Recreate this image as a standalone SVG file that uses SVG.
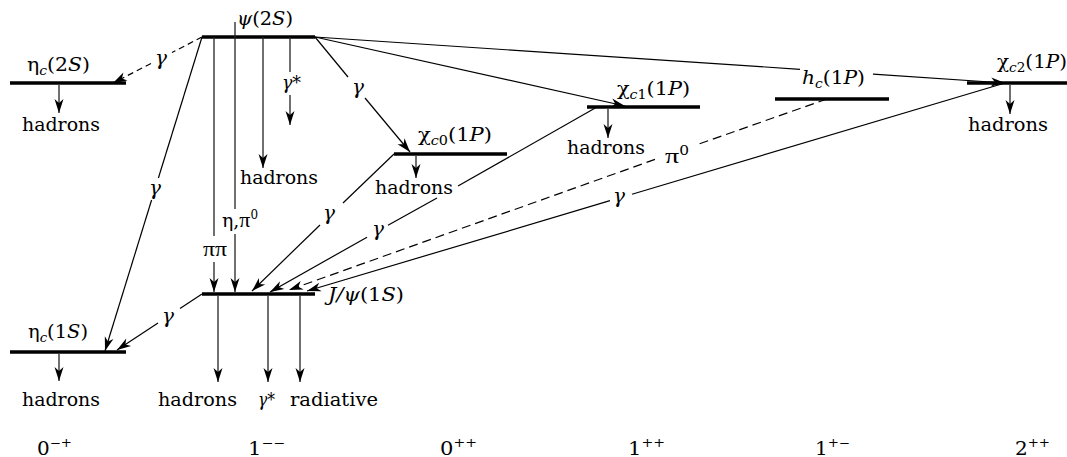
<svg xmlns="http://www.w3.org/2000/svg" width="1067" height="457" viewBox="0 0 1067 457" font-family="'DejaVu Serif', serif">
<defs>
<style>
text{font-family:"DejaVu Serif",serif;fill:#000}
.lbl{font-size:19px}
.h{font-size:19px}
.g{font-size:20px;font-style:italic;text-anchor:middle}
.it{font-style:italic}
.pi{font-family:"Liberation Serif",serif;font-size:22px}
.sub{font-size:13px}
.sup{font-size:12px}
.jpc{font-size:18px}
.lvl{stroke:#000;stroke-width:3.5;fill:none}
.ln{stroke:#000;stroke-width:1.2;fill:none}
.v{stroke:#222;stroke-width:1.3;fill:none}
.d1{stroke-dasharray:6 4}
.d2{stroke-dasharray:9 5}
.arr{marker-end:url(#ah)}
</style>
<marker id="ah" viewBox="-15 -5 16 10" refX="0" refY="0" markerWidth="16" markerHeight="10" markerUnits="userSpaceOnUse" orient="auto"><path d="M0,0 L-14,-4.5 L-10,0 L-14,4.5 Z" fill="#000"/></marker>
</defs>
<rect width="1067" height="457" fill="#fff"/>

<g id="psi2S">
<line class="lvl" x1="202" y1="37" x2="315" y2="37"/>
<text class="lbl" x="237" y="25" textLength="56" lengthAdjust="spacingAndGlyphs"><tspan class="it">ψ</tspan>(2<tspan class="it">S</tspan>)</text>
</g>
<g id="etac2S">
<line class="lvl" x1="10" y1="83" x2="126" y2="83"/>
<text class="lbl" x="27" y="71" textLength="63" lengthAdjust="spacingAndGlyphs">η<tspan class="sub it" dy="4">c</tspan><tspan dy="-4">(2</tspan><tspan class="it">S</tspan>)</text>
<text class="h" x="22" y="131" textLength="78" lengthAdjust="spacingAndGlyphs">hadrons</text>
</g>
<g id="chic0">
<line class="lvl" x1="394" y1="154" x2="507" y2="154"/>
<text class="lbl" x="418" y="141" textLength="74" lengthAdjust="spacingAndGlyphs">χ<tspan class="sub" dy="4"><tspan class="it">c</tspan>0</tspan><tspan dy="-4">(1</tspan><tspan class="it">P</tspan>)</text>
<text class="h" x="375" y="194" textLength="78" lengthAdjust="spacingAndGlyphs">hadrons</text>
</g>
<g id="chic1">
<line class="lvl" x1="587" y1="107" x2="700" y2="107"/>
<text class="lbl" x="617" y="95" textLength="73" lengthAdjust="spacingAndGlyphs">χ<tspan class="sub" dy="4"><tspan class="it">c</tspan>1</tspan><tspan dy="-4">(1</tspan><tspan class="it">P</tspan>)</text>
<text class="h" x="567" y="154" textLength="78" lengthAdjust="spacingAndGlyphs">hadrons</text>
</g>
<g id="hc1P">
<line class="lvl" x1="775" y1="99" x2="889" y2="99"/>
<text class="lbl" x="802" y="84" textLength="63" lengthAdjust="spacingAndGlyphs"><tspan class="it">h</tspan><tspan class="sub it" dy="4">c</tspan><tspan dy="-4">(1</tspan><tspan class="it">P</tspan>)</text>
</g>
<g id="chic2">
<line class="lvl" x1="967" y1="83" x2="1067" y2="83"/>
<text class="lbl" x="997" y="68" textLength="70" lengthAdjust="spacingAndGlyphs">χ<tspan class="sub" dy="4"><tspan class="it">c</tspan>2</tspan><tspan dy="-4">(1</tspan><tspan class="it">P</tspan>)</text>
<text class="h" x="968" y="131" textLength="80" lengthAdjust="spacingAndGlyphs">hadrons</text>
</g>
<g id="jpsi">
<line class="lvl" x1="202" y1="294" x2="315" y2="294"/>
<text class="lbl" x="328" y="301" textLength="76" lengthAdjust="spacingAndGlyphs"><tspan class="it">J/ψ</tspan>(1<tspan class="it">S</tspan>)</text>
<text class="h" x="158" y="406" textLength="79" lengthAdjust="spacingAndGlyphs">hadrons</text>
<text class="h it" x="258" y="406" textLength="17" lengthAdjust="spacingAndGlyphs">γ*</text>
<text class="h" x="290" y="406" textLength="88" lengthAdjust="spacingAndGlyphs">radiative</text>
</g>
<g id="etac1S">
<line class="lvl" x1="10" y1="352" x2="126" y2="352"/>
<text class="lbl" x="28" y="338" textLength="60" lengthAdjust="spacingAndGlyphs">η<tspan class="sub it" dy="4">c</tspan><tspan dy="-4">(1</tspan><tspan class="it">S</tspan>)</text>
<text class="h" x="22" y="406" textLength="78" lengthAdjust="spacingAndGlyphs">hadrons</text>
</g>

<g id="connectors">
<line class="ln d1" x1="202" y1="37" x2="172" y2="52.5"/>
<line class="ln d1 arr" x1="151" y1="63.5" x2="113" y2="83"/>
<text class="g" x="161" y="65">γ</text>
<line class="ln" x1="202" y1="37" x2="158.4" y2="178"/>
<line class="ln arr" x1="151.6" y1="200" x2="105" y2="351"/>
<text class="g" x="155" y="195">γ</text>
<line class="v" x1="214" y1="37" x2="214" y2="236"/>
<line class="v arr" x1="214" y1="262" x2="214" y2="292"/>
<text class="h" x="203" y="256" textLength="24" lengthAdjust="spacingAndGlyphs"><tspan class="pi">ππ</tspan></text>
<line class="v" x1="235" y1="22" x2="235" y2="209"/>
<line class="v arr" x1="235" y1="234" x2="235" y2="292"/>
<text class="h" x="222" y="227" textLength="36" lengthAdjust="spacingAndGlyphs">η,<tspan class="pi">π</tspan><tspan class="sup" dy="-8">0</tspan></text>
<line class="v arr" x1="263" y1="37" x2="263" y2="168"/>
<text class="h" x="240" y="184" textLength="78" lengthAdjust="spacingAndGlyphs">hadrons</text>
<line class="v" x1="290" y1="37" x2="290" y2="72"/>
<line class="v arr" x1="290" y1="95" x2="290" y2="125"/>
<text class="h it" x="282" y="89" textLength="19" lengthAdjust="spacingAndGlyphs">γ*</text>
<line class="ln" x1="315" y1="37" x2="348" y2="77"/>
<line class="ln arr" x1="365" y1="98" x2="410" y2="152"/>
<text class="g" x="358" y="94">γ</text>
<line class="ln arr" x1="315" y1="37" x2="625" y2="106"/>
<line class="ln" x1="315" y1="37" x2="800" y2="69.3"/>
<line class="ln arr" x1="873" y1="74.2" x2="1005" y2="83"/>
<line class="v arr" x1="59" y1="85" x2="59" y2="113"/>
<line class="v arr" x1="416" y1="156" x2="416" y2="178"/>
<line class="v arr" x1="608" y1="109" x2="608" y2="138"/>
<line class="v arr" x1="1010" y1="85" x2="1010" y2="114"/>
<line class="v arr" x1="59" y1="354" x2="59" y2="381"/>
<line class="ln" x1="394" y1="154" x2="343" y2="203"/>
<line class="ln arr" x1="320" y1="225" x2="252" y2="291"/>
<text class="g" x="329" y="220">γ</text>
<line class="ln" x1="597" y1="107" x2="458" y2="186"/>
<line class="ln" x1="437" y1="198" x2="388" y2="225.3"/>
<line class="ln arr" x1="367" y1="237.2" x2="270" y2="292"/>
<text class="g" x="378" y="236">γ</text>
<line class="ln d2" x1="827" y1="99" x2="696" y2="145"/>
<line class="ln d2 arr" x1="655" y1="159.4" x2="289" y2="290"/>
<text class="h" x="665" y="163" textLength="24" lengthAdjust="spacingAndGlyphs"><tspan class="pi">π</tspan><tspan class="sup" dy="-8">0</tspan></text>
<line class="ln" x1="1005" y1="83" x2="632" y2="194.2"/>
<line class="ln arr" x1="610" y1="200.7" x2="307" y2="291"/>
<text class="g" x="619" y="203">γ</text>
<line class="ln" x1="202" y1="294" x2="180" y2="308.5"/>
<line class="ln arr" x1="158" y1="323" x2="117" y2="350"/>
<text class="g" x="168" y="323">γ</text>
<line class="v arr" x1="218" y1="296" x2="218" y2="382"/>
<line class="v arr" x1="268" y1="296" x2="268" y2="382"/>
<line class="v arr" x1="300" y1="296" x2="300" y2="382"/>
</g>

<g id="jpc-labels">
<text class="jpc" x="37" y="455" textLength="35" lengthAdjust="spacingAndGlyphs">0<tspan class="sup" dy="-8">−+</tspan></text>
<text class="jpc" x="248" y="455" textLength="37" lengthAdjust="spacingAndGlyphs">1<tspan class="sup" dy="-8">−−</tspan></text>
<text class="jpc" x="440" y="455" textLength="37" lengthAdjust="spacingAndGlyphs">0<tspan class="sup" dy="-8">++</tspan></text>
<text class="jpc" x="628" y="455" textLength="37" lengthAdjust="spacingAndGlyphs">1<tspan class="sup" dy="-8">++</tspan></text>
<text class="jpc" x="815" y="455" textLength="35" lengthAdjust="spacingAndGlyphs">1<tspan class="sup" dy="-8">+−</tspan></text>
<text class="jpc" x="1015" y="455" textLength="35" lengthAdjust="spacingAndGlyphs">2<tspan class="sup" dy="-8">++</tspan></text>
</g>
</svg>
